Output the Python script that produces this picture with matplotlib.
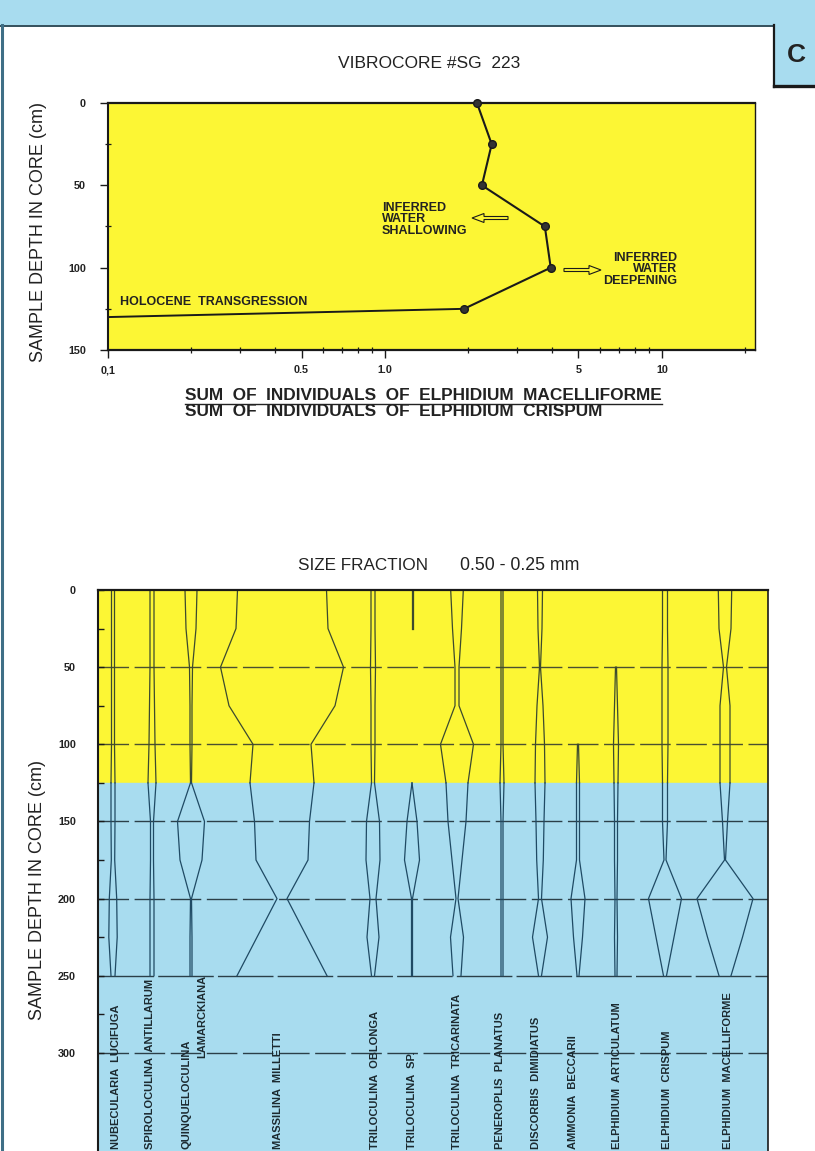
import matplotlib
matplotlib.use("Agg")
import matplotlib.pyplot as plt
from matplotlib.patches import Rectangle, FancyArrow
from matplotlib.lines import Line2D
from matplotlib.transforms import IdentityTransform
from matplotlib.ticker import FixedLocator, NullFormatter

plt.rcParams['font.family'] = ['Liberation Sans', 'DejaVu Sans']

# ---------------- Vibrocore #SG 223: E. macelliforme / E. crispum ratio ----------------
ratio_depth_cm = [0, 25, 50, 75, 100, 125]
ratio_macelliforme_crispum = [2.15, 2.43, 2.24, 3.78, 3.97, 1.93]
transgression_depth_cm = 130
transgression_ratio = 0.1

ratio_ticks = [0.1, 0.5, 1.0, 5, 10]
ratio_tick_labels = ['0,1', '0.5', '1.0', '5', '10']
ratio_minor_ticks = [0.2, 0.3, 0.4, 0.6, 0.7, 0.8, 0.9, 2, 3, 4, 6, 7, 8, 9, 20]

# ---------------- Kite diagram, size fraction 0.50 - 0.25 mm ----------------
nan = float('nan')
sample_depth_cm = [0, 25, 50, 75, 100, 125, 150, 175, 200, 225, 250]

nubecularia_lucifuga = [1.5, 1.5, 1.5, 1.5, 1.5, 2, 2, 1.7, 3.7, 4.2, 2]
spiroloculina_antillarum = [2, 2, 2, 2.5, 3, 4, 1.5, 1.5, 2, 2, 2]
quinqueloculina_lamarckiana = [6, 5, 1.5, 1, 1, 0.5, 13.5, 11, 0.5, 1, 1]
massilina_milletti = [44.5, 46, 61.5, 53, 29, 32, 27.5, 26, 5, 25, 45]
triloculina_oblonga = [2, 2, 2.5, 2, 2, 1.5, 6.5, 7, 3, 6, 1.5]
triloculina_sp = [0.5, 0.5, nan, nan, nan, 0, 5, 7.5, 0.5, 0.5, 0.5]
triloculina_tricarinata = [6.3, 4.5, 2, 2, 16.5, 11, 9, 5, 1, 6.5, 4]
peneroplis_planatus = [1, 1, 1, 1, 1, 2, 1, 1, 1, 1, 1]
discorbis_dimidiatus = [2.5, 2, 0.5, 3, 4.5, 5, 4, 3.3, 1.5, 7.5, 1.5]
ammonia_beccarii = [nan, nan, nan, nan, 0.5, 1.5, 1.5, 1.5, 7, 4.5, 1]
elphidium_articulatum = [nan, nan, 0.5, 1.5, 2.5, 2, 1.5, 1.5, 1, 1.5, 1]
elphidium_crispum = [2.5, 2.5, 3, 3, 3, 2.5, 2.5, 1, 16.5, 9, 1.5]
elphidium_macelliforme = [6.7, 6, 1.5, 5, 5, 5, 2.5, 0.5, 28, 17.5, 6]

species_names = [
    'NUBECULARIA  LUCIFUGA', 'SPIROLOCULINA  ANTILLARUM',
    'QUINQUELOCULINA\nLAMARCKIANA', 'MASSILINA  MILLETTI',
    'TRILOCULINA  OBLONGA', 'TRILOCULINA  SP.', 'TRILOCULINA  TRICARINATA',
    'PENEROPLIS  PLANATUS', 'DISCORBIS  DIMIDIATUS', 'AMMONIA  BECCARII',
    'ELPHIDIUM  ARTICULATUM', 'ELPHIDIUM  CRISPUM', 'ELPHIDIUM  MACELLIFORME',
]
species_abundance = [
    nubecularia_lucifuga, spiroloculina_antillarum, quinqueloculina_lamarckiana,
    massilina_milletti, triloculina_oblonga, triloculina_sp,
    triloculina_tricarinata, peneroplis_planatus, discorbis_dimidiatus,
    ammonia_beccarii, elphidium_articulatum, elphidium_crispum,
    elphidium_macelliforme,
]
depth_ticks = [0, 50, 100, 150, 200, 250, 300]
holocene_base_cm = 125

# ---------------- layout (pixels on an 815 x 1151 canvas) ----------------
W, H = 815, 1151
DPI = 100
column_x = [113, 152, 191, 282, 373, 412, 457, 502, 540, 578, 616, 665, 725]
label_x = [116, 150, 187, 278, 375, 412, 457, 500, 536, 573, 617, 667, 728]

YELLOW = '#fcf634'
BLUE = '#a8dcef'
INK = '#1a1a1a'
TEXT = '#222222'
KITE_TOP = '#3c4a2e'
KITE_BOTTOM = '#1f4a64'

fig = plt.figure(figsize=(W / DPI, H / DPI), dpi=DPI)
fig.patch.set_facecolor('white')
px = IdentityTransform()


def ftext(x, y, s, **kw):
    return fig.text(x / W, 1 - y / H, s, **kw)


def pline(xs, ys, **kw):
    fig.add_artist(Line2D(xs, [H - y for y in ys], transform=px, **kw))


# page decoration: blue band, panel border, panel tag
fig.add_artist(Rectangle((0, H - 25), W, 25, transform=px, facecolor=BLUE,
                         edgecolor='none'))
pline([0, 773], [25.5, 25.5], color='#33505c', lw=1.4)
pline([1.5, 1.5], [25, H], color='#3f6f86', lw=2.2)
fig.add_artist(Rectangle((774, H - 86), 41, 61, transform=px, facecolor=BLUE,
                         edgecolor='none'))
pline([774, 774], [25, 87], color=INK, lw=1.6)
pline([774, 815], [86, 86], color=INK, lw=2.4)
ftext(796, 55, 'C', fontsize=19, fontweight='bold', ha='center', va='center',
      color=TEXT)

# ---------------- upper panel ----------------
ax1 = fig.add_axes([108 / W, 1 - 350 / H, (755 - 108) / W, (350 - 103) / H])
ax1.set_facecolor(YELLOW)
ax1.set_xscale('log')
ax1.set_xlim(0.1, 21.7)
ax1.set_ylim(150, 0)
ax1.plot([transgression_ratio, ratio_macelliforme_crispum[-1]],
         [transgression_depth_cm, ratio_depth_cm[-1]], color=INK, lw=1.4,
         zorder=3, clip_on=False)
ax1.plot(ratio_macelliforme_crispum, ratio_depth_cm, color=INK, lw=1.5,
         marker='o', ms=5.5, mfc='#333333', mec=INK, zorder=4, clip_on=False)

for side in ('top', 'bottom'):
    ax1.spines[side].set_linewidth(1.6)
ax1.spines['left'].set_linewidth(1.5)
ax1.spines['right'].set_linewidth(1.0)
for sp in ax1.spines.values():
    sp.set_color(INK)

ax1.xaxis.set_major_locator(FixedLocator(ratio_ticks))
ax1.set_xticklabels(ratio_tick_labels)
ax1.xaxis.set_minor_locator(FixedLocator(ratio_minor_ticks))
ax1.xaxis.set_minor_formatter(NullFormatter())
ax1.set_yticks([0, 50, 100, 150])
ax1.set_yticks([25, 75, 125], minor=True)
ax1.tick_params(axis='both', which='major', direction='out', length=6,
                width=1.0, color=INK, labelsize=7.8, labelcolor=TEXT)
ax1.tick_params(axis='both', which='minor', direction='inout', length=5,
                width=0.9, color=INK)
ax1.tick_params(axis='y', which='major', pad=10)
ax1.tick_params(axis='x', which='major', pad=5)
for lab in ax1.get_xticklabels() + ax1.get_yticklabels():
    lab.set_fontweight('bold')

ftext(429, 64, 'VIBROCORE #SG  223', fontsize=12.5, ha='center', va='center',
      color=TEXT)
ftext(39, 232, 'SAMPLE DEPTH IN CORE (cm)', fontsize=13, rotation=90,
      ha='center', va='center', color=TEXT)

ann = dict(fontsize=9, fontweight='bold', linespacing=0.92, color=TEXT)
ftext(382, 202, 'INFERRED\nWATER\nSHALLOWING', ha='left', va='top', **ann)
ftext(677, 252, 'INFERRED\nWATER\nDEEPENING', ha='right', va='top',
      multialignment='right', **ann)
ftext(120, 302, 'HOLOCENE  TRANSGRESSION', ha='left', va='center', **ann)

arrow_kw = dict(width=3, head_width=9, head_length=12, transform=px,
                facecolor=YELLOW, edgecolor=INK, lw=0.8,
                length_includes_head=True)
fig.add_artist(FancyArrow(508, H - 218, -36, 0, **arrow_kw))
fig.add_artist(FancyArrow(564, H - 270, 37, 0, **arrow_kw))

num = ftext(185, 396, 'SUM  OF  INDIVIDUALS  OF  ELPHIDIUM  MACELLIFORME',
            fontsize=12.4, fontweight='bold', ha='left', va='center',
            color=TEXT)
ftext(185, 412, 'SUM  OF  INDIVIDUALS  OF  ELPHIDIUM  CRISPUM', fontsize=12.4,
      fontweight='bold', ha='left', va='center', color=TEXT)
fig.canvas.draw()
bb = num.get_window_extent()
pline([bb.x0, bb.x1], [404, 404], color=TEXT, lw=1.0)

# ---------------- lower panel: kite diagram ----------------
depth_bottom = (H - 590) / 1.543
ax2 = fig.add_axes([98 / W, 0, (768 - 98) / W, (H - 590) / H])
ax2.set_xlim(98, 768)
ax2.set_ylim(depth_bottom, 0)
ax2.axhspan(0, holocene_base_cm, color=YELLOW, zorder=0)
ax2.axhspan(holocene_base_cm, depth_bottom, color=BLUE, zorder=0)

for d in depth_ticks[1:]:
    if d == 250:
        ls = (0, (40, 3))
    else:
        ls = (0, (22, 4))
    ax2.axhline(d, color='#2b3f48' if d > holocene_base_cm else '#4a5030',
                lw=1.0, ls=ls, zorder=1)

for cx, values in zip(column_x, species_abundance):
    left = [cx - v for v in values]
    right = [cx + v for v in values]
    split = sample_depth_cm.index(holocene_base_cm)
    for xs in (left, right):
        ax2.plot(xs[:split + 1], sample_depth_cm[:split + 1], color=KITE_TOP,
                 lw=0.9, zorder=2)
        ax2.plot(xs[split:], sample_depth_cm[split:], color=KITE_BOTTOM,
                 lw=0.9, zorder=2)

ax2.spines['bottom'].set_visible(False)
ax2.spines['top'].set_linewidth(1.6)
ax2.spines['left'].set_linewidth(1.5)
ax2.spines['right'].set_linewidth(1.2)
for sp in ax2.spines.values():
    sp.set_color(INK)
ax2.set_xticks([])
ax2.set_yticks(depth_ticks)
ax2.set_yticks([25, 75, 125, 175, 225, 275], minor=True)
ax2.tick_params(axis='y', which='both', direction='in', length=4, width=1.0,
                color=INK, labelsize=7.8, labelcolor=TEXT, pad=16)
for lab in ax2.get_yticklabels():
    lab.set_fontweight('bold')

ftext(363, 566, 'SIZE FRACTION', fontsize=12.3, ha='center', va='center',
      color=TEXT)
ftext(520, 566, '0.50 - 0.25 mm', fontsize=12.8, ha='center', va='center',
      color=TEXT)
ftext(38, 890, 'SAMPLE DEPTH IN CORE (cm)', fontsize=13, rotation=90,
      ha='center', va='center', color=TEXT)

lab_kw = dict(fontsize=8, fontweight='bold', rotation=90, ha='center',
              va='bottom', color='#1c2a30')
for lx, name in zip(label_x, species_names):
    parts = name.split('\n')
    ftext(lx, 1149, parts[0], **lab_kw)
    if len(parts) > 1:
        ftext(lx + 15, 1058, parts[1], **lab_kw)

fig.savefig('out.png', dpi=DPI)
